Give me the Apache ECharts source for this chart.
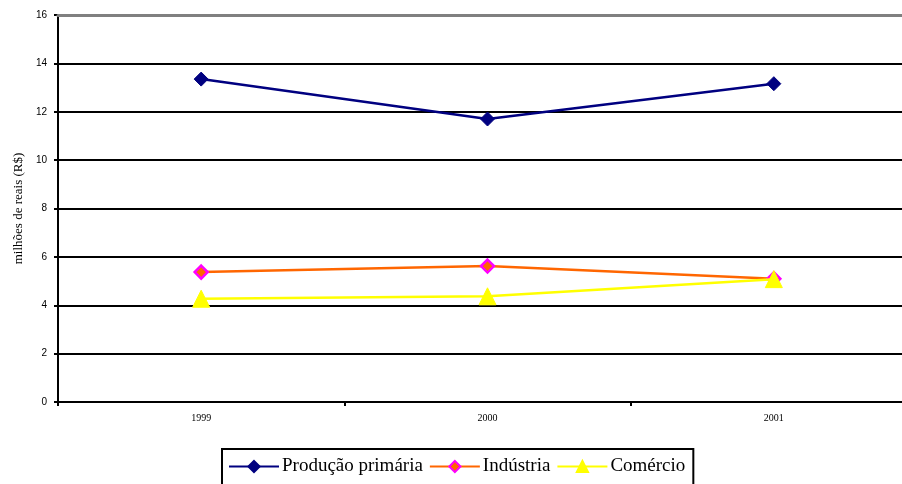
<!DOCTYPE html>
<html>
<head>
<meta charset="utf-8">
<script src="https://cdn.jsdelivr.net/npm/echarts@6/dist/echarts.min.js"></script>
<style>html,body{margin:0;padding:0;background:#fff;overflow:hidden}#c{width:917px;height:484px}</style>
</head>
<body>
<div id="c"></div>
<script>
var categories = ['1999', '2000', '2001'];
var producaoPrimaria = [13.35, 11.70, 13.16];
var industria = [5.37, 5.62, 5.10];
var comercio = [4.27, 4.37, 5.08];
var yTicks = {min: 0, max: 16, interval: 2};

var chart = echarts.init(document.getElementById('c'));
chart.setOption({
  animation: false,
  backgroundColor: '#fff',
  grid: {left: 58, right: 0, top: 15, bottom: 82},
  legend: {
    left: 222, top: 449,
    padding: [8, 8, 12, 6],
    borderColor: '#000', borderWidth: 2,
    itemWidth: 50, itemHeight: 14, itemGap: 6,
    textStyle: {fontFamily: 'Liberation Serif', fontSize: 19, color: '#000', padding: [0, 0, 0, -2]},
    data: ['Produção primária', 'Indústria', 'Comércio']
  },
  xAxis: [{
    type: 'category', data: categories, boundaryGap: true,
    axisLine: {lineStyle: {color: '#000', width: 2}},
    axisTick: {show: true, length: 4, lineStyle: {color: '#000', width: 2}},
    axisLabel: {fontFamily: 'Liberation Serif', fontSize: 10, color: '#000', margin: 11}
  }, {
    type: 'category', data: categories, position: 'top',
    axisLine: {lineStyle: {color: '#808080', width: 3}},
    axisTick: {show: false}, axisLabel: {show: false}, z: 5
  }],
  yAxis: {
    type: 'value', min: yTicks.min, max: yTicks.max, interval: yTicks.interval,
    name: 'milhões de reais (R$)', nameLocation: 'middle', nameGap: 31,
    nameTextStyle: {fontFamily: 'Liberation Serif', fontSize: 13, color: '#000'},
    axisLine: {show: true, lineStyle: {color: '#000', width: 2}},
    axisTick: {show: true, length: 4, lineStyle: {color: '#000', width: 2}},
    axisLabel: {fontFamily: 'Liberation Sans', fontSize: 10, color: '#000', margin: 11},
    splitLine: {show: true, lineStyle: {color: '#000', width: 2}}
  },
  series: [{
    name: 'Produção primária', type: 'line', data: producaoPrimaria,
    symbol: 'diamond', symbolSize: 14,
    lineStyle: {color: '#000080', width: 2.5},
    itemStyle: {color: '#000080', borderColor: '#000080', borderWidth: 1},
    z: 4
  }, {
    name: 'Indústria', type: 'line', data: industria,
    symbol: 'diamond', symbolSize: 13,
    lineStyle: {color: '#FF6600', width: 2.5},
    itemStyle: {color: '#FF6600', borderColor: '#FF00FF', borderWidth: 2.5},
    z: 3
  }, {
    name: 'Comércio', type: 'line', data: comercio,
    symbol: 'triangle', symbolSize: 17,
    lineStyle: {color: '#FFFF00', width: 2.5},
    itemStyle: {color: '#FFFF00', borderColor: '#FFFF00', borderWidth: 1},
    z: 4
  }]
});
</script>
</body>
</html>
